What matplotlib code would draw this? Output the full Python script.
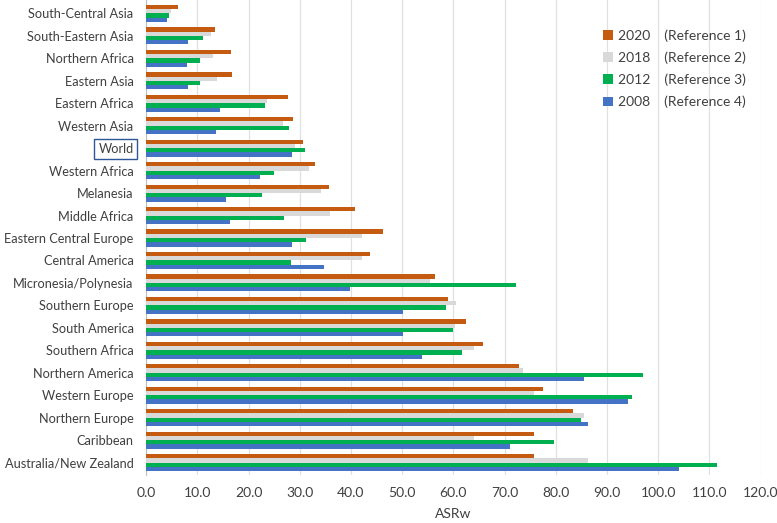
import matplotlib
matplotlib.use("Agg")
import matplotlib.pyplot as plt
import numpy as np

plt.rcParams['font.family'] = ['Lato', 'DejaVu Sans']

categories = ["South-Central Asia", "South-Eastern Asia", "Northern Africa", "Eastern Asia",
              "Eastern Africa", "Western Asia", "World", "Western Africa", "Melanesia",
              "Middle Africa", "Eastern Central Europe", "Central America",
              "Micronesia/Polynesia", "Southern Europe", "South America", "Southern Africa",
              "Northern America", "Western Europe", "Northern Europe", "Caribbean",
              "Australia/New Zealand"]
v2020 = [6.2, 13.4, 16.6, 16.7, 27.8, 28.6, 30.6, 33.0, 35.7, 40.7, 46.3, 43.7,
         56.4, 59.0, 62.5, 65.8, 72.9, 77.5, 83.3, 75.7, 75.7]
v2018 = [4.9, 12.6, 13.0, 13.8, 23.7, 26.8, 29.1, 31.8, 34.1, 35.9, 42.1, 42.1,
         55.5, 60.6, 60.3, 64.0, 73.6, 75.7, 85.5, 64.1, 86.3]
v2012 = [4.4, 11.1, 10.5, 10.5, 23.2, 27.9, 31.0, 25.0, 22.6, 27.0, 31.3, 28.3,
         72.2, 58.5, 60.0, 61.7, 97.1, 94.8, 84.9, 79.7, 111.5]
v2008 = [4.0, 8.2, 8.0, 8.1, 14.4, 13.7, 28.4, 22.2, 15.7, 16.3, 28.4, 34.7,
         39.8, 50.1, 50.1, 53.8, 85.5, 94.1, 86.3, 71.1, 104.1]
years = ["2020", "2018", "2012", "2008"]
refs = ["(Reference 1)", "(Reference 2)", "(Reference 3)", "(Reference 4)"]
colors = ["#C55A11", "#D9D9D9", "#00B050", "#4472C4"]

fig = plt.figure(figsize=(7.77, 5.23), dpi=100)
ax = fig.add_axes([0.188, 0.092, 0.791, 0.908])

y = np.arange(len(categories))
h = 0.19
series = [v2020, v2018, v2012, v2008]
for i, (vals, c, yr, rf) in enumerate(zip(series, colors, years, refs)):
    ax.barh(y + (i - 1.5) * h, vals, height=h, color=c, label=f"{yr}    {rf}", zorder=3)

ax.set_xlim(0, 120)
ax.set_ylim(len(categories) - 0.45, -0.6)
ax.set_xticks(np.arange(0, 121, 10))
ax.set_xticklabels([f"{t:.1f}" for t in np.arange(0, 121, 10)], fontsize=10, color="#404040")
ax.set_yticks(y)
ax.set_yticklabels(categories, fontsize=9.2, color="#404040")
ax.tick_params(axis='y', length=0, pad=9)
ax.tick_params(axis='x', length=0, pad=9)
ax.grid(axis='x', color="#E0E0E0", linewidth=0.9, zorder=0)
for s in ["top", "right", "bottom"]:
    ax.spines[s].set_visible(False)
ax.spines["left"].set_color("#BFBFBF")
ax.set_xlabel("ASRw", fontsize=10, color="#404040", labelpad=6)

for lbl in ax.get_yticklabels():
    if lbl.get_text() == "World":
        lbl.set_bbox(dict(facecolor="white", edgecolor="#2F5597", linewidth=1.0, boxstyle="square,pad=0.3"))

leg = ax.legend(loc="upper right", bbox_to_anchor=(0.997, 0.965), frameon=False, fontsize=10,
                handlelength=0.7, handleheight=0.7, handletextpad=0.4, labelspacing=0.7,
                labelcolor="#404040")

fig.savefig("out.png", dpi=100)
